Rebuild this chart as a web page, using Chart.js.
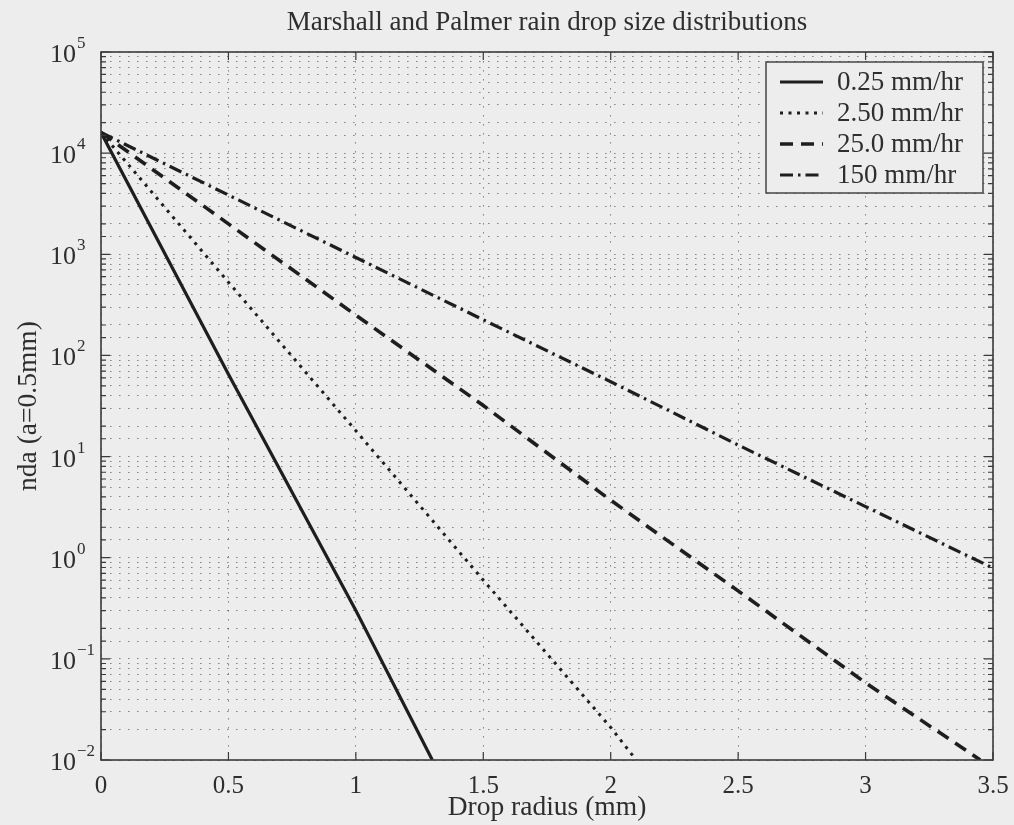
<!DOCTYPE html>
<html>
<head>
<meta charset="utf-8">
<style>
  html, body { margin: 0; padding: 0; background: #ededed; }
  #wrap { width: 1014px; height: 825px; position: relative; }
</style>
<script src="https://cdn.jsdelivr.net/npm/chart.js@4/dist/chart.umd.min.js"></script>
</head>
<body>
<div id="wrap"><canvas id="c" width="1014" height="825"></canvas></div>
<script>
// ---- data ----
const titleText = 'Marshall and Palmer rain drop size distributions';
const xLabel = 'Drop radius (mm)';
const yLabel = 'nda (a=0.5mm)';
const seriesLabels = ['0.25 mm/hr', '2.50 mm/hr', '25.0 mm/hr', '150 mm/hr'];

const radius025 = [0, 0.5, 1.0, 1.3];
const nda025    = [16000, 65, 0.3, 0.01];

const radius250 = [0, 0.5, 1.0, 1.5, 2.0, 2.1];
const nda250    = [16000, 530, 18, 0.6, 0.021, 0.01];

const radius250b = [0, 0.5, 1.0, 1.5, 2.0, 2.5, 3.0, 3.45];
const nda25     = [16000, 2000, 250, 32, 3.7, 0.47, 0.058, 0.01];

const radius150 = [0, 0.5, 1.0, 1.5, 2.0, 2.5, 3.0, 3.5];
const nda150    = [16000, 3850, 930, 225, 55, 13, 3.2, 0.79];

const xTicks = [0, 0.5, 1, 1.5, 2, 2.5, 3, 3.5];
const yExponents = [-2, -1, 0, 1, 2, 3, 4, 5];

// ---- styling ----
const FONT = '"Liberation Serif", "Times New Roman", serif';
const INK = '#2e2e2e';
const BG = '#ededed';
const dashes = [[], [3, 5.5], [13, 8], [13, 5, 2.5, 5]];
const widths = [3.2, 3, 3.6, 3.2];

function pts(xs, ys) { return xs.map((x, i) => ({ x: x, y: ys[i] })); }
const seriesData = [pts(radius025, nda025), pts(radius250, nda250), pts(radius250b, nda25), pts(radius150, nda150)];

const framePlugin = {
  id: 'frame',
  beforeDraw(chart) {
    const ctx = chart.ctx;
    ctx.save();
    ctx.fillStyle = BG;
    ctx.fillRect(0, 0, chart.width, chart.height);
    ctx.restore();
  },
  afterDraw(chart) {
    const ctx = chart.ctx;
    const a = chart.chartArea;
    const xs = chart.scales.x, ys = chart.scales.y;
    ctx.save();
    // title centred over the plot area
    ctx.fillStyle = INK;
    ctx.font = '27px ' + FONT;
    ctx.textAlign = 'center';
    ctx.textBaseline = 'alphabetic';
    ctx.fillText(titleText, (a.left + a.right) / 2, 30);
    // frame
    ctx.strokeStyle = '#3a3a3a';
    ctx.lineWidth = 1.6;
    ctx.setLineDash([]);
    ctx.strokeRect(a.left, a.top, a.right - a.left, a.bottom - a.top);
    // inward ticks
    ctx.lineWidth = 1.2;
    ctx.beginPath();
    xs.ticks.forEach(t => {
      const px = xs.getPixelForValue(t.value);
      ctx.moveTo(px, a.bottom); ctx.lineTo(px, a.bottom - 8);
      ctx.moveTo(px, a.top); ctx.lineTo(px, a.top + 8);
    });
    ys.ticks.forEach(t => {
      const py = ys.getPixelForValue(t.value);
      const lg = Math.log10(t.value);
      const major = Math.abs(lg - Math.round(lg)) < 1e-9;
      const len = major ? 9 : 5;
      ctx.moveTo(a.left, py); ctx.lineTo(a.left + len, py);
      ctx.moveTo(a.right, py); ctx.lineTo(a.right - len, py);
    });
    ctx.stroke();
    // y tick labels with superscript exponents
    ctx.fillStyle = INK;
    ctx.textAlign = 'left';
    ctx.textBaseline = 'alphabetic';
    yExponents.forEach(e => {
      const py = ys.getPixelForValue(Math.pow(10, e));
      ctx.font = '26px ' + FONT;
      const base = '10';
      ctx.fillText(base, 50, py + 10);
      const w = ctx.measureText(base).width;
      ctx.font = '17px ' + FONT;
      ctx.fillText(e < 0 ? '\u2212' + Math.abs(e) : String(e), 50 + w + 1, py - 4);
    });
    // legend
    const lx = 766, ly = 62, lw = 217, lh = 131;
    ctx.fillStyle = BG;
    ctx.fillRect(lx, ly, lw, lh);
    ctx.strokeStyle = '#3a3a3a';
    ctx.lineWidth = 1.4;
    ctx.strokeRect(lx, ly, lw, lh);
    chart.data.datasets.forEach((ds, i) => {
      const cy = 82 + i * 31;
      ctx.strokeStyle = '#1e1e1e';
      ctx.lineWidth = ds.borderWidth;
      ctx.setLineDash(ds.borderDash || []);
      ctx.beginPath();
      ctx.moveTo(780, cy); ctx.lineTo(823, cy);
      ctx.stroke();
      ctx.setLineDash([]);
      ctx.fillStyle = INK;
      ctx.font = '27px ' + FONT;
      ctx.textBaseline = 'middle';
      ctx.fillText(ds.label, 837, cy + 1);
    });
    ctx.restore();
  }
};

const gridCommon = {
  color: 'rgba(80,80,80,0.65)',
  lineWidth: 1,
  drawTicks: false
};

new Chart(document.getElementById('c'), {
  type: 'line',
  data: {
    datasets: seriesData.map((d, i) => ({
      label: seriesLabels[i],
      data: d,
      borderColor: '#1e1e1e',
      backgroundColor: '#1e1e1e',
      borderWidth: widths[i],
      borderDash: dashes[i],
      pointRadius: 0,
      tension: 0,
      fill: false
    }))
  },
  options: {
    responsive: false,
    animation: false,
    devicePixelRatio: 1,
    layout: { padding: { left: 0, right: 21, top: 52, bottom: 0 } },
    plugins: {
      legend: { display: false },
      tooltip: { enabled: false },
      title: { display: false }
    },
    scales: {
      x: {
        type: 'linear',
        min: 0, max: 3.5,
        afterBuildTicks: s => { s.ticks = xTicks.map(v => ({ value: v })); },
        afterFit: s => { s.height = 65; s.paddingLeft = 0; s.paddingRight = 0; },
        ticks: {
          color: INK,
          font: { family: FONT, size: 25 },
          padding: 11,
          maxRotation: 0,
          callback: v => String(v)
        },
        grid: gridCommon,
        border: { display: false, dash: [1.6, 7.4] },
        title: {
          display: true,
          text: xLabel,
          color: INK,
          font: { family: FONT, size: 27.5 },
          padding: { top: 0, bottom: 1 }
        }
      },
      y: {
        type: 'logarithmic',
        min: 0.01, max: 100000,
        afterFit: s => { s.width = 101; s.paddingTop = 0; s.paddingBottom = 0; },
        ticks: { display: false },
        grid: gridCommon,
        border: { display: false, dash: [1.6, 7.4] },
        title: {
          display: true,
          text: yLabel,
          color: INK,
          font: { family: FONT, size: 27.5 },
          padding: { top: 12, bottom: 0 }
        }
      }
    }
  },
  plugins: [framePlugin]
});
</script>
</body>
</html>
